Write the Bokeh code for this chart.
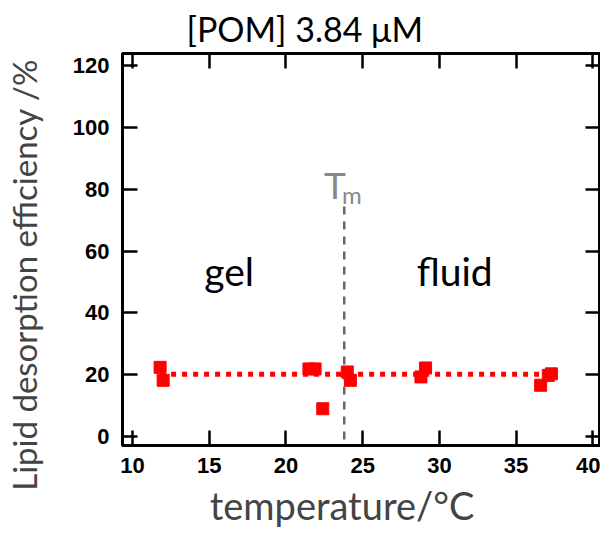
from bokeh.plotting import figure
from bokeh.models import Range1d, LinearAxis, FixedTicker
from bokeh.core.properties import value
from bokeh.embed import file_html
from bokeh.resources import INLINE

# ---- data ----
temperature = [11.8, 12.0, 21.5, 21.9, 22.4, 24.0, 24.2, 28.8, 29.1, 36.6, 37.1, 37.3]
efficiency = [22.4, 18.2, 21.9, 21.9, 9.0, 20.9, 18.2, 19.3, 22.2, 16.6, 19.8, 20.3]
fit_temperature = [11.8, 37.3]
fit_efficiency = [20.2, 20.2]
tm_temperature = [23.8, 23.8]
tm_efficiency = [74.5, -3.0]
x_ticks = [10, 15, 20, 25, 30, 35, 40]
y_ticks = [0, 20, 40, 60, 80, 100, 120]

TXT = "Lato"
TICKF = "Liberation Sans"
NB = "\u00a0"

p = figure(width=600, height=534, output_backend="svg", toolbar_location=None,
           x_range=Range1d(9.35, 40.5), y_range=Range1d(-2.9, 124.0),
           min_border_left=117, min_border_right=0, min_border_top=45,
           min_border_bottom=89, title="[POM] 3.84 μM")

p.title.text_font = TXT
p.title.text_font_size = "34px"
p.title.text_font_style = "normal"
p.title.align = "left"
p.title.offset = 64
p.title.text_color = "black"

p.xgrid.visible = False
p.ygrid.visible = False
p.background_fill_color = "white"
p.border_fill_color = "white"
p.outline_line_color = "black"
p.outline_line_width = 3


def style_axis(ax, ticks, labels=True):
    ax.ticker = FixedTicker(ticks=ticks)
    ax.major_tick_in = 15
    ax.major_tick_out = 0
    ax.minor_tick_line_color = None
    ax.major_tick_line_width = 2.5
    ax.major_tick_line_color = "black"
    ax.axis_line_width = 3
    ax.axis_line_color = "black"
    if labels:
        ax.major_label_text_font = TICKF
        ax.major_label_text_font_size = "22px"
        ax.major_label_text_font_style = "bold"
        ax.major_label_text_color = "black"
    else:
        ax.major_label_text_font_size = "1px"
        ax.major_label_text_color = None
        ax.major_label_standoff = 0
        ax.axis_label_standoff = 0


style_axis(p.xaxis[0], x_ticks)
style_axis(p.yaxis[0], y_ticks)
p.xaxis[0].major_label_standoff = 12
p.yaxis[0].major_label_standoff = 13

p.xaxis[0].axis_label = "temperature/°C" + NB * 4
p.xaxis[0].axis_label_text_font = TXT
p.xaxis[0].axis_label_text_font_size = "38px"
p.xaxis[0].axis_label_text_font_style = "normal"
p.xaxis[0].axis_label_standoff = 6

p.yaxis[0].axis_label = "Lipid desorption efficiency /%" + NB * 6
p.yaxis[0].axis_label_text_font = TXT
p.yaxis[0].axis_label_text_font_size = "33px"
p.yaxis[0].axis_label_text_font_style = "normal"
p.yaxis[0].axis_label_standoff = 26

top_ax = LinearAxis()
style_axis(top_ax, x_ticks, labels=False)
p.add_layout(top_ax, "above")
right_ax = LinearAxis()
style_axis(right_ax, y_ticks, labels=False)
right_ax.major_label_standoff = 7
p.add_layout(right_ax, "right")

# Tm line
p.line(tm_temperature, tm_efficiency, line_color="#666666", line_width=2.5,
       line_dash="8 7")

# fit line
p.line(fit_temperature, fit_efficiency, line_color="red", line_width=5,
       line_dash="5 6")

# points
p.scatter(temperature, efficiency, marker="square", size=12,
          fill_color="red", line_color="red")

# annotations
p.text(x=[16.3], y=[53.7], text=["gel"], text_font=value(TXT),
       text_font_size="39px", text_align="center", text_baseline="alphabetic",
       text_color="black")
p.text(x=[31.0], y=[53.7], text=["fluid"], text_font=value(TXT),
       text_font_size="39px", text_align="center", text_baseline="alphabetic",
       text_color="black")
p.text(x=[23.2], y=[81.6], text=["T"], text_font=value(TXT),
       text_font_size="37px", text_align="center", text_baseline="alphabetic",
       text_color="#888888")
p.text(x=[23.65], y=[78.4], text=["m"], text_font=value(TXT),
       text_font_size="24px", text_align="left", text_baseline="alphabetic",
       text_color="#888888")

open("out.html", "w").write(file_html(p, INLINE))
